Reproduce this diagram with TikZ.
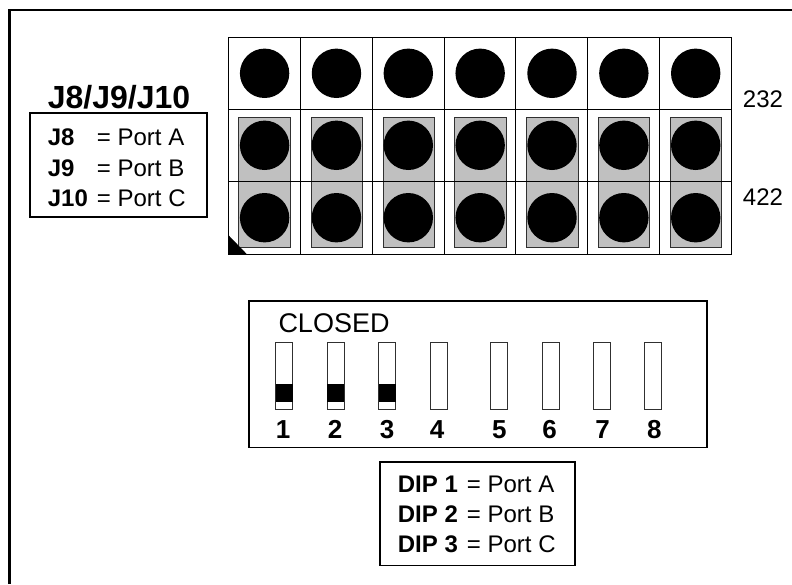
\documentclass[tikz,border=0pt]{standalone}
\usepackage{fontspec}
\setmainfont{Liberation Sans}
\usepackage{xcolor}
\definecolor{colorJ}{HTML}{C0C0C0}
\definecolor{colorE}{HTML}{303030}
\tikzset{
	lbl/.style={anchor=base west, inner sep=0pt, font=\fontsize{24}{24}\selectfont},
	title/.style={anchor=base, inner sep=0pt, font=\fontsize{32}{32}\selectfont\bfseries},
	dipnum/.style={anchor=base, inner sep=0pt, font=\fontsize{26}{26}\selectfont\bfseries},
	legendbox/.style={draw, line width=1.3pt, fill=white},
	slot/.style={draw=colorE, line width=1pt, fill=white},
	jumper/.style={draw=colorE, line width=1pt, fill=colorJ},
}
\begin{document}
\begin{tikzpicture}[x=1pt, y=-1pt]
		\useasboundingbox (0,0) rectangle (792,584);
		\draw[line width=2.4pt] (9.5,584) -- (9.5,10) -- (792,10);
		%
		% header block
		\foreach \c/\xl/\xr in {0/238.7/290.3, 1/311/362.5, 2/383/434.5, 3/454.5/506, 4/526.5/578, 5/598/649.5, 6/670/721.5}{
			\draw[jumper] (\xl,117.5) rectangle (\xr,247);
		}
		\foreach \c in {0,...,7}{
			\draw[line width=1pt] (228.3+71.9*\c,37) -- (228.3+71.9*\c,254);
		}
		\foreach \r in {37,109,181.5,254}{
			\draw[line width=1pt] (228.3,\r) -- (731.6,\r);
		}
		\foreach \c in {0,...,6}{
			\foreach \r in {73.3,145.3,217.7}{
				\fill (264.6+71.85*\c,\r) circle (24.7);
			}
		}
		\fill (228.3,235) -- (246.7,254) -- (228.3,254) -- cycle;
		\node[lbl] (lbl-232) at (742.7,107.3) {232};
		\node[lbl] (lbl-422) at (742.7,205.7) {422};
		%
		% jumper legend
		\node[title] (jtitle) at (119,108) {J8/J9/J10};
		\draw[legendbox] (30,113) rectangle (207,217);
		\node[lbl] (j8) at (47.7,145) {\textbf{J8}};
		\node[lbl] (j9) at (47.7,176) {\textbf{J9}};
		\node[lbl] (j10) at (47.7,206.7) {\textbf{J10}};
		\node[lbl] (porta) at (96.7,145) {= Port A};
		\node[lbl] (portb) at (96.7,176) {= Port B};
		\node[lbl] (portc) at (96.7,206.7) {= Port C};
		%
		% dip switch
		\draw[legendbox] (249,301) rectangle (707,447.7);
		\node[lbl, font=\fontsize{27}{27}\selectfont] (closed) at (278.3,332.7) {CLOSED};
		\foreach \n/\xl/\xn in {1/275.7/283, 2/327/335, 3/378.5/387, 4/430/437, 5/490.7/499.3, 6/542/549.5, 7/593.3/602.5, 8/644.7/654.3}{
			\draw[slot] (\xl,342.7) rectangle ++(17,66.6);
			\node[dipnum] (num-\n) at (\xn,438.3) {\n};
		}
		\foreach \xl in {275.7, 327, 378.5}{
			\fill (\xl,384.3) rectangle ++(17,17.7);
		}
		%
		% dip legend
		\draw[legendbox] (380,462) rectangle (575,565.7);
		\node[lbl] (dip1) at (397.7,492.7) {\textbf{DIP 1}};
		\node[lbl] (dip2) at (397.7,522.7) {\textbf{DIP 2}};
		\node[lbl] (dip3) at (397.7,552.7) {\textbf{DIP 3}};
		\node[lbl] (dipa) at (466.7,492.7) {= Port A};
		\node[lbl] (dipb) at (466.7,522.7) {= Port B};
		\node[lbl] (dipc) at (466.7,552.7) {= Port C};
	\end{tikzpicture}
\end{document}
